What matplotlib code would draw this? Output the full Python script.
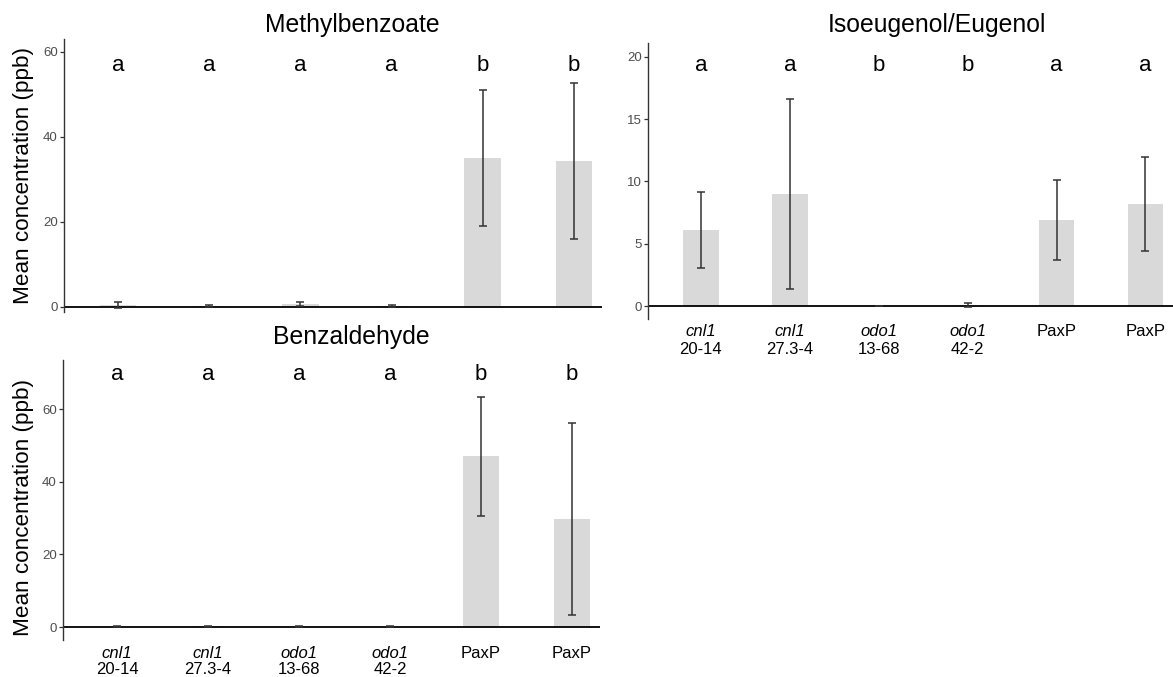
import matplotlib
matplotlib.use("Agg")
import matplotlib.pyplot as plt

plt.rcParams['font.family'] = ['Liberation Sans', 'DejaVu Sans']

# genotypes on the x axis
gene = ['cnl1', 'cnl1', 'odo1', 'odo1', 'PaxP', 'PaxP']
line = ['20-14', '27.3-4', '13-68', '42-2', '', '']
italic = [True, True, True, True, False, False]

# mean concentrations (ppb) and error bar half-widths
methyl_mean = [0.5, 0.2, 0.7, 0.2, 35.0, 34.3]
methyl_err = [0.7, 0.2, 0.5, 0.2, 16.1, 18.4]
methyl_letters = ['a', 'a', 'a', 'a', 'b', 'b']

iso_mean = [6.1, 9.0, 0.03, 0.1, 6.9, 8.2]
iso_err = [3.07, 7.6, 0.03, 0.15, 3.2, 3.75]
iso_letters = ['a', 'a', 'b', 'b', 'a', 'a']

benz_mean = [0.1, 0.2, 0.1, 0.1, 47.1, 29.7]
benz_err = [0.1, 0.15, 0.05, 0.05, 16.4, 26.5]
benz_letters = ['a', 'a', 'a', 'a', 'b', 'b']

W, H = 1173, 677
fig = plt.figure(figsize=(W / 100, H / 100), dpi=100)


def px_axes(left, right, top, bottom):
    return fig.add_axes([left / W, 1 - bottom / H, (right - left) / W, (bottom - top) / H])


def panel(ax, means, errs, letters, ylim, yticks, letter_y, xlabels, ylabel):
    x = list(range(1, len(means) + 1))
    ax.bar(x, means, width=0.4, color='#D9D9D9', zorder=1)
    ax.errorbar(x, means, yerr=errs, fmt='none', ecolor='#333333',
                elinewidth=1.1, capsize=2.8, capthick=1.1, zorder=3)
    ax.axhline(0, color='black', lw=1.3, zorder=2)
    for xi, l in zip(x, letters):
        ax.text(xi, letter_y, l, ha='center', va='baseline', fontsize=16)
    ax.set_xlim(0.405, 6.31)
    ax.set_ylim(*ylim)
    ax.set_yticks(yticks)
    ax.set_xticks([])
    for s in ['top', 'right', 'bottom']:
        ax.spines[s].set_visible(False)
    ax.spines['left'].set_color('#333333')
    ax.spines['left'].set_linewidth(1.0)
    ax.tick_params(axis='y', length=3, width=0.9, color='#333333',
                   labelcolor='#4D4D4D', labelsize=9.5, pad=1.5)
    ax.patch.set_alpha(0)
    if xlabels:
        for xi, g, ln, it in zip(x, gene, line, italic):
            ax.annotate(g, xy=(xi, 0), xycoords=('data', 'axes fraction'),
                        xytext=(0, -13), textcoords='offset pixels',
                        ha='center', va='center', fontsize=12,
                        style='italic' if it else 'normal')
            if ln:
                ax.annotate(ln, xy=(xi, 0), xycoords=('data', 'axes fraction'),
                            xytext=(0, -30), textcoords='offset pixels',
                            ha='center', va='center', fontsize=12)


ax1 = px_axes(64, 602, 39, 312)
panel(ax1, methyl_mean, methyl_err, methyl_letters, (-1.25, 63.06),
      [0, 20, 40, 60], 55.5, False, True)

ax2 = px_axes(648, 1173, 43.3, 319)
panel(ax2, iso_mean, iso_err, iso_letters, (-1.02, 21.07),
      [0, 5, 10, 15, 20], 18.88, True, False)

ax3 = px_axes(63, 600, 360, 640)
panel(ax3, benz_mean, benz_err, benz_letters, (-3.58, 73.6),
      [0, 20, 40, 60], 68.1, True, True)

# panel titles
fig.text(352 / W, 1 - 25 / H, 'Methylbenzoate', ha='center', va='center', fontsize=17.8)
fig.text(937 / W, 1 - 25 / H, 'Isoeugenol/Eugenol', ha='center', va='center', fontsize=17.8)
fig.text(351 / W, 1 - 337 / H, 'Benzaldehyde', ha='center', va='center', fontsize=17.8)

# y axis labels
fig.text(24 / W, 1 - 176 / H, 'Mean concentration (ppb)', rotation=90,
         ha='center', va='center', fontsize=16.2)
fig.text(24 / W, 1 - 507 / H, 'Mean concentration (ppb)', rotation=90,
         ha='center', va='center', fontsize=16.2)

fig.savefig('out.png', dpi=100, facecolor='white')
